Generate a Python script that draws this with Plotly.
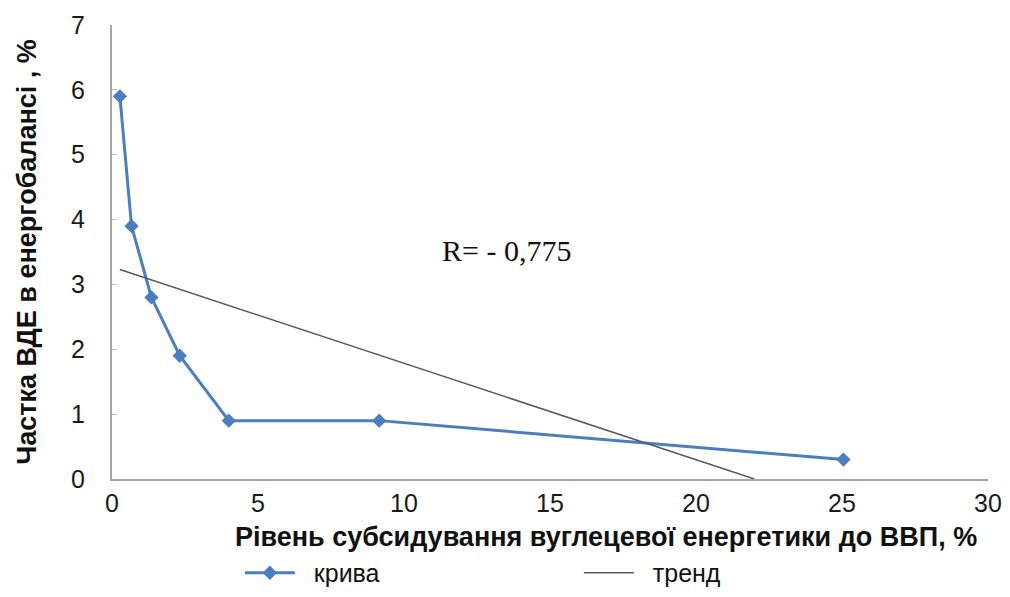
import plotly.graph_objects as go

curve_x = [0.27, 0.67, 1.35, 2.32, 4.0, 9.15, 25.05]
curve_y = [5.9, 3.9, 2.8, 1.9, 0.9, 0.9, 0.3]
trend_x = [0.27, 22.0]
trend_y = [3.23, 0.0]
x_ticks = [0, 5, 10, 15, 20, 25, 30]
y_ticks = [0, 1, 2, 3, 4, 5, 6, 7]
series_names = ["крива", "тренд"]
annotation_text = "R= - 0,775"
x_title = "Рівень субсидування вуглецевої енергетики до ВВП, %"
y_title = "Частка ВДЕ в енергобалансі , %"

BLUE = "#4A7EBF"
FONT = "Liberation Sans"
NB = "\u00a0\u00a0"

fig = go.Figure()
fig.add_trace(go.Scatter(
    x=curve_x, y=curve_y, mode="lines+markers", name=NB + series_names[0],
    line=dict(color=BLUE, width=3),
    marker=dict(symbol="diamond", size=11, color=BLUE),
))
fig.add_trace(go.Scatter(
    x=trend_x, y=trend_y, mode="lines", name=NB + series_names[1],
    line=dict(color="#595959", width=1.5),
))

fig.add_annotation(
    x=13.5, y=3.53, xref="x", yref="y", text=annotation_text, showarrow=False,
    font=dict(family="Liberation Serif", size=30, color="#111111"),
)

# x-axis title (placed as annotation to match its horizontal offset)
fig.add_annotation(
    x=0.564, y=-0.128, xref="paper", yref="paper", xanchor="center", yanchor="middle",
    text="<b>" + x_title + "</b>", showarrow=False,
    font=dict(family=FONT, size=27, color="#111111"),
)

axis_common = dict(
    showgrid=False, zeroline=False, showline=True, linecolor="#A6A6A6", linewidth=2,
    tickfont=dict(family=FONT, size=25, color="#1a1a1a"),
    automargin=False,
)

fig.update_xaxes(
    range=[0, 30], tickvals=x_ticks, ticktext=[str(v) for v in x_ticks],
    ticks="", ticklabelstandoff=1,
    **axis_common,
)
fig.update_yaxes(
    range=[0, 7], tickvals=y_ticks, ticktext=[str(v) for v in y_ticks],
    ticks="inside", ticklen=5, tickcolor="#BFBFBF", ticklabelstandoff=20,
    title=dict(text="<b>" + y_title + "</b>", font=dict(family=FONT, size=27, color="#111111"), standoff=27),
    **axis_common,
)

fig.update_layout(
    width=994, height=581,
    margin=dict(l=104, r=14, t=17, b=110, autoexpand=False),
    plot_bgcolor="white", paper_bgcolor="white",
    showlegend=True,
    legend=dict(
        orientation="h", x=0.146, xanchor="left", y=-0.207, yanchor="middle",
        font=dict(family=FONT, size=25, color="#111111"),
        entrywidth=274, entrywidthmode="pixels", itemwidth=50,
    ),
)

fig.write_html("out.html")
